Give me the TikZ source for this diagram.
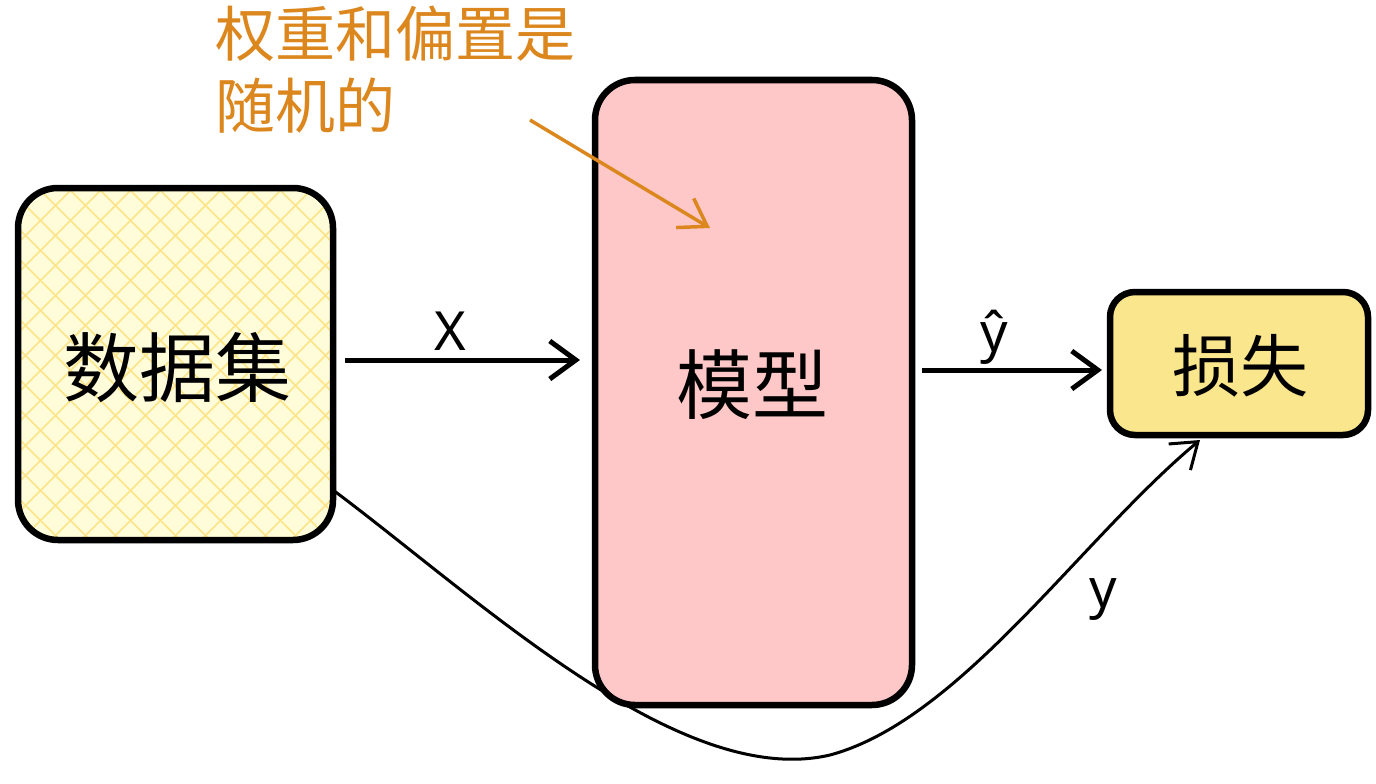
\documentclass[tikz,border=0pt]{standalone}
\usepackage{fontspec}
\setmainfont{Noto Sans CJK SC}
\newfontfamily\latinfont{Noto Sans}
\usetikzlibrary{arrows.meta}
\begin{document}
\begin{tikzpicture}[x=1pt,y=-1pt,
  box/.style={draw=black,line width=6.5pt,rounded corners=40pt},
  conn/.style={draw=black,line width=5pt,-{Straight Barb[length=26pt,width=38pt,line width=5pt]}},
  lbl/.style={font=\latinfont\fontsize{54}{60}\selectfont}]
\useasboundingbox (0,0) rectangle (1376,784);
\coordinate (dataC) at (333,490);
\coordinate (lossS) at (1200,440);
\draw[line width=3pt,-{Straight Barb[length=24pt,width=34pt,line width=3pt]}] (dataC) .. controls (480,600) and (680,790) .. (830,755) .. controls (960,720) and (1080,540) .. (lossS);
\fill[yellow!15,rounded corners=40pt] (18,188) rectangle (333,540);
\begin{scope}
\clip[rounded corners=40pt] (18,188) rectangle (333,540);
\foreach \i in {-400,-370,...,400} {
  \draw[yellow!60!orange!45,line width=1.5pt] (18+\i,188) -- ++(400,400);
  \draw[yellow!60!orange!45,line width=1.5pt] (333-\i,188) -- ++(-400,400);
}
\end{scope}
\draw[box] (18,188) rectangle (333,540);
\node[font=\fontsize{76}{80}\selectfont] (data) at (177,368) {数据集};
\coordinate (dataE) at (345,360);
\draw[box,fill={rgb,255:red,255;green,200;blue,200}] (595,80) rectangle (912,705);
\node[font=\fontsize{76}{80}\selectfont] (model) at (752,385) {模型};
\coordinate (modelW) at (580,360);
\coordinate (modelE) at (922,370);
\draw[box,rounded corners=25pt,fill={rgb,255:red,250;green,230;blue,140}] (1110,292) rectangle (1368,435);
\node[font=\fontsize{68}{72}\selectfont] (loss) at (1240,366) {损失};
\coordinate (lossW) at (1102,370);
\draw[conn] (dataE) -- node[lbl,above=4pt,pos=0.45] {X} (modelW);
\draw[conn] (modelE) -- node[lbl,above=0pt,pos=0.4] {ŷ} (lossW);
\node[lbl] (ylab) at (1103,600) {y};
\node[font=\fontsize{60}{72}\selectfont,text={rgb,255:red,220;green,135;blue,30},align=left,anchor=north west] (note) at (212,2) {权重和偏置是\\随机的};
\coordinate (noteA) at (530,120);
\coordinate (noteB) at (710,228);
\draw[draw={rgb,255:red,220;green,135;blue,30},line width=3.5pt,-{Straight Barb[length=26pt,width=34pt,line width=3.5pt]}] (noteA) -- (noteB);
\end{tikzpicture}
\end{document}
